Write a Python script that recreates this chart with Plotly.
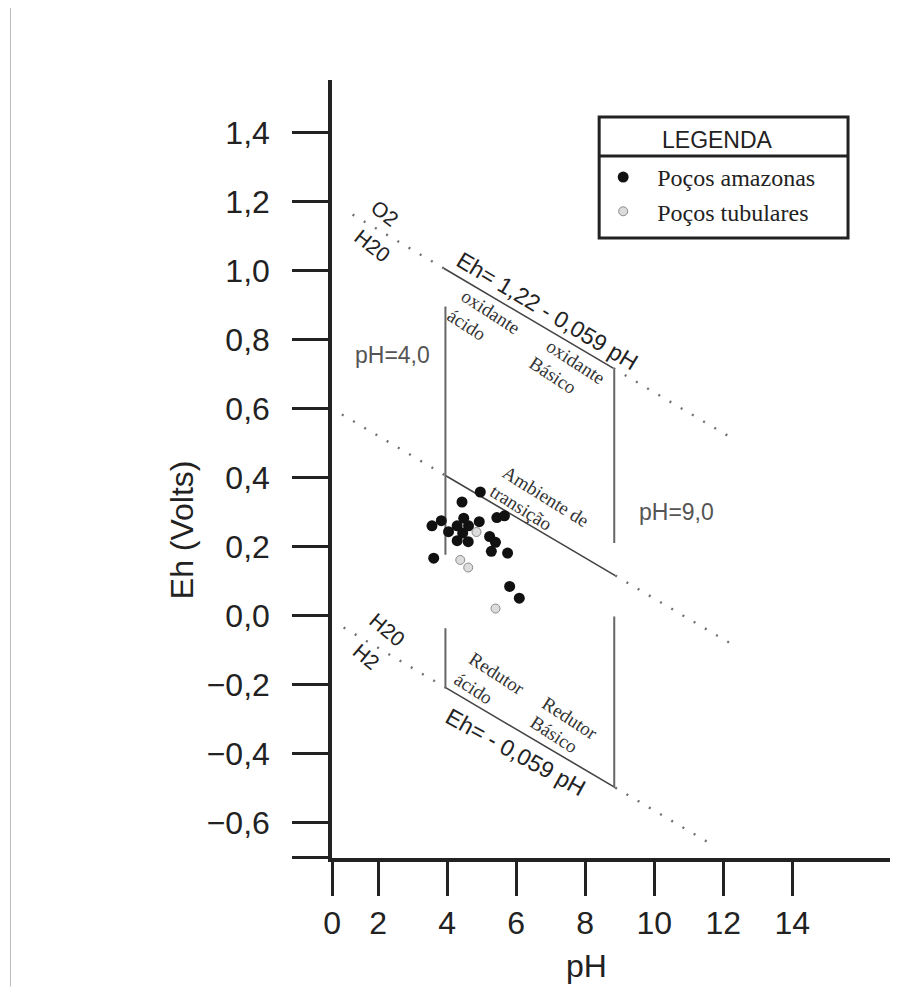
import plotly.graph_objects as go

# ---------------- data ----------------
ph_amazonas = [4.96, 4.43, 3.83, 3.56, 4.48, 4.29, 4.62, 4.93, 5.44, 5.66, 4.04,
               4.45, 4.29, 4.61, 5.23, 5.40, 5.28, 5.75, 3.61, 5.81, 6.09]
eh_amazonas = [0.358, 0.329, 0.275, 0.260, 0.282, 0.260, 0.260, 0.272, 0.284, 0.289, 0.243,
               0.239, 0.217, 0.214, 0.229, 0.212, 0.186, 0.181, 0.166, 0.084, 0.050]
ph_tubulares = [4.85, 4.38, 4.61, 5.40]
eh_tubulares = [0.242, 0.161, 0.139, 0.020]

# boundary lines Eh = a + slope*pH (as drawn)
boundary_intercepts = [1.237, 0.639, 0.024]
boundary_slope = -0.059
boundary_dotted_left = [(1.26, 3.90), (0.95, 3.95), (1.00, 3.97)]
boundary_solid = [(3.90, 8.82), (3.95, 8.87), (3.97, 8.87)]
boundary_dotted_right = [(8.82, 12.27), (8.87, 12.25), (8.87, 11.79)]

# vertical limits pH=4,0 and pH=9,0 (as drawn)
vertical_ph = [3.95, 8.84]
vertical_eh_segments = [[(0.176, 0.896), (-0.210, -0.037)],
                        [(0.210, 0.712), (-0.496, -0.003)]]

x_tick_vals = [0.666, 2, 4, 6, 8, 10, 12, 14]
x_tick_text = ["0", "2", "4", "6", "8", "10", "12", "14"]
y_tick_vals = [1.4, 1.2, 1.0, 0.8, 0.6, 0.4, 0.2, 0.0, -0.2, -0.4, -0.6, -0.703]
y_tick_text = ["1,4", "1,2", "1,0", "0,8", "0,6", "0,4", "0,2", "0,0",
               "\u22120,2", "\u22120,4", "\u22120,6", ""]

# ---------------- layout geometry ----------------
OFF = 8  # page body margin
W_FIG, H_FIG = 898 - OFF, 987 - OFF
L, R, T = 331.7 - OFF, 0, 80 - OFF
B = H_FIG - (858.3 - OFF)
PW = W_FIG - L - R
PH = H_FIG - T - B


def pxx(px):
    return (px - OFF - L) / PW


def pxy(py):
    return (H_FIG - B - (py - OFF)) / PH


fig = go.Figure()

DOT_STYLE = dict(color="#707070", width=2.4, dash="2px,11px")
SOLID_STYLE = dict(color="#444", width=1.6)
VERT_STYLE = dict(color="#666", width=2)


def seg(x0, x1, a):
    return [x0, x1], [a + boundary_slope * x0, a + boundary_slope * x1]


for a, dl, so, dr in zip(boundary_intercepts, boundary_dotted_left,
                         boundary_solid, boundary_dotted_right):
    for rng, style in ((dl, DOT_STYLE), (so, SOLID_STYLE), (dr, DOT_STYLE)):
        xs, ys = seg(rng[0], rng[1], a)
        fig.add_trace(go.Scatter(x=xs, y=ys, mode="lines", line=style,
                                 showlegend=False, hoverinfo="skip"))

for ph, segs in zip(vertical_ph, vertical_eh_segments):
    for lo, hi in segs:
        fig.add_trace(go.Scatter(x=[ph, ph], y=[lo, hi], mode="lines", line=VERT_STYLE,
                                 showlegend=False, hoverinfo="skip"))

fig.add_trace(go.Scatter(x=ph_amazonas, y=eh_amazonas, mode="markers",
                         name="Poços amazonas",
                         marker=dict(color="#111", size=11, line=dict(width=0))))
fig.add_trace(go.Scatter(x=ph_tubulares, y=eh_tubulares, mode="markers",
                         name="Poços tubulares",
                         marker=dict(color="#dcdcdc", size=9,
                                     line=dict(color="#8a8a8a", width=1))))

SERIF = "Liberation Serif"
SANS = "Arial, Liberation Sans"


def note(text, x, y, angle, size=19, family=SERIF, color="#333"):
    fig.add_annotation(x=x, y=y, xref="x", yref="y", text=text, showarrow=False,
                       textangle=angle, xanchor="center", yanchor="middle",
                       font=dict(family=family, size=size, color=color))


note("O2", 2.21, 1.167, 38, size=21, family=SANS, color="#222")
note("H20", 1.83, 1.072, 38, size=21, family=SANS, color="#222")
note("Eh= 1,22 - 0,059 pH", 6.90, 0.883, 31, size=23, family=SANS, color="#222")
note("oxidante", 5.25, 0.881, 33)
note("ácido", 4.55, 0.843, 33)
note("oxidante", 7.71, 0.736, 33)
note("Básico", 7.08, 0.696, 33)
note("pH=4,0", 2.42, 0.756, 0, size=23, family=SANS, color="#555")
note("pH=9,0", 10.63, 0.301, 0, size=23, family=SANS, color="#555")
note("Ambiente de", 6.86, 0.345, 32)
note("transição", 6.14, 0.314, 32)
note("H20", 2.26, -0.041, 40, size=21, family=SANS, color="#222")
note("H2", 1.65, -0.119, 40, size=21, family=SANS, color="#222")
note("Redutor", 5.44, -0.169, 33)
note("ácido", 4.77, -0.212, 33)
note("Redutor", 7.57, -0.299, 33)
note("Básico", 7.10, -0.346, 33)
note("Eh= - 0,059 pH", 5.97, -0.396, 29, size=23, family=SANS, color="#222")

# axis titles
fig.add_annotation(x=pxx(181), y=pxy(530), xref="paper", yref="paper", text="Eh (Volts)",
                   showarrow=False, textangle=-90, xanchor="center", yanchor="middle",
                   font=dict(family=SANS, size=32, color="#222"))
fig.add_annotation(x=pxx(586), y=pxy(966), xref="paper", yref="paper", text="pH",
                   showarrow=False, xanchor="center", yanchor="middle",
                   font=dict(family=SANS, size=32, color="#222"))

# legend box
fig.add_annotation(x=pxx(717), y=pxy(140), xref="paper", yref="paper", text="LEGENDA",
                   showarrow=False, xanchor="center", yanchor="middle",
                   font=dict(family=SANS, size=23, color="#222"))
fig.add_shape(type="rect", xref="paper", yref="paper",
              x0=pxx(599), x1=pxx(848), y0=pxy(238), y1=pxy(117),
              line=dict(color="#222", width=3), fillcolor="rgba(0,0,0,0)", layer="above")
fig.add_shape(type="line", xref="paper", yref="paper",
              x0=pxx(599), x1=pxx(848), y0=pxy(156), y1=pxy(156),
              line=dict(color="#222", width=3), layer="above")

# faint scan border on the far left
fig.add_shape(type="line", xref="paper", yref="paper",
              x0=pxx(10), x1=pxx(10), y0=pxy(OFF), y1=pxy(987),
              line=dict(color="#bbb", width=1))

fig.update_layout(
    width=W_FIG, height=H_FIG,
    margin=dict(l=L, r=R, t=T, b=B, autoexpand=False),
    paper_bgcolor="white", plot_bgcolor="white",
    showlegend=True,
    legend=dict(x=pxx(589), y=pxy(155), xanchor="left", yanchor="top",
                bgcolor="rgba(0,0,0,0)", borderwidth=0, itemwidth=58,
                font=dict(family=SERIF, size=24, color="#222"),
                tracegroupgap=0),
    xaxis=dict(range=[0.664, 17.06], showgrid=False, zeroline=False,
               showline=True, linewidth=3.5, linecolor="#222",
               ticks="outside", ticklen=34, tickwidth=3, tickcolor="#222",
               tickvals=x_tick_vals, ticktext=x_tick_text,
               tickfont=dict(family=SANS, size=32, color="#222"),
               ticklabelstandoff=0, automargin=False),
    yaxis=dict(range=[-0.7035, 1.553], showgrid=False, zeroline=False,
               showline=True, linewidth=3.5, linecolor="#222",
               ticks="outside", ticklen=36, tickwidth=3, tickcolor="#222",
               tickvals=y_tick_vals, ticktext=y_tick_text,
               tickfont=dict(family=SANS, size=32, color="#222"),
               ticklabelstandoff=16, automargin=False),
)

fig.write_html("out.html")
